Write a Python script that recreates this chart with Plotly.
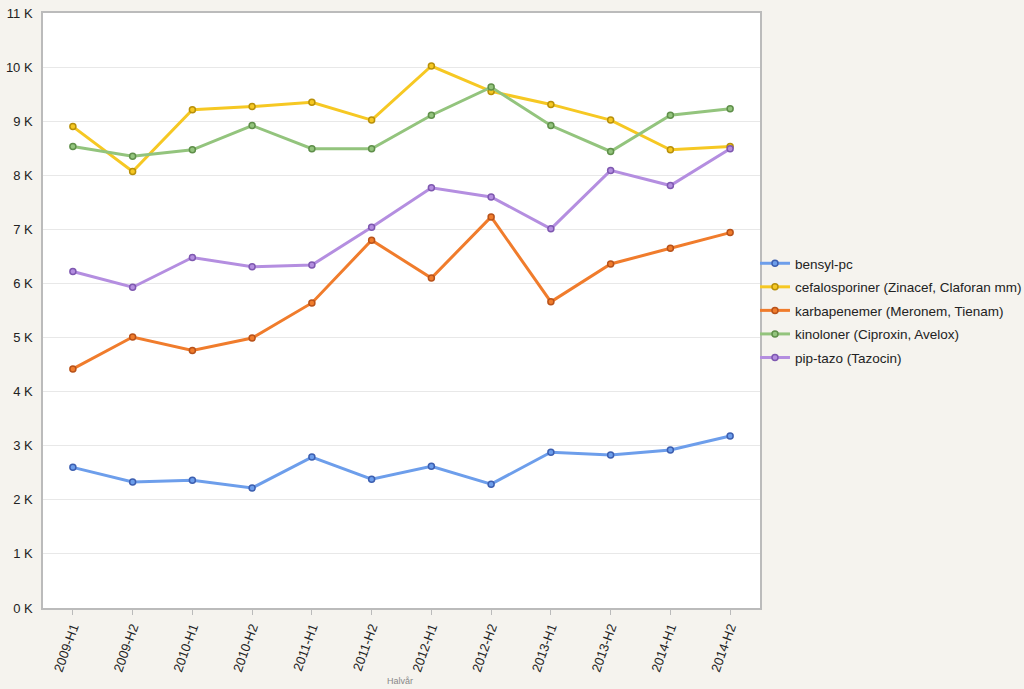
import plotly.graph_objects as go

categories = ["2009-H1", "2009-H2", "2010-H1", "2010-H2", "2011-H1", "2011-H2",
              "2012-H1", "2012-H2", "2013-H1", "2013-H2", "2014-H1", "2014-H2"]

bensyl_pc = [2600, 2330, 2360, 2220, 2790, 2380, 2620, 2290, 2880, 2830, 2920, 3180]
cefalosporiner = [8900, 8070, 9210, 9270, 9350, 9020, 10020, 9550, 9310, 9020, 8470, 8530]
karbapenemer = [4420, 5010, 4760, 4990, 5640, 6800, 6100, 7230, 5660, 6360, 6650, 6940]
kinoloner = [8530, 8350, 8470, 8920, 8490, 8490, 9110, 9630, 8920, 8440, 9110, 9230]
pip_tazo = [6220, 5930, 6480, 6310, 6340, 7040, 7770, 7600, 7010, 8090, 7810, 8490]

series_names = ["bensyl-pc",
                "cefalosporiner (Zinacef, Claforan mm)",
                "karbapenemer (Meronem, Tienam)",
                "kinoloner (Ciproxin, Avelox)",
                "pip-tazo (Tazocin)"]
series_values = [bensyl_pc, cefalosporiner, karbapenemer, kinoloner, pip_tazo]
line_colors = ["#6d9eeb", "#f6c823", "#f07c2c", "#93c47d", "#b48ee0"]
marker_edge = ["#3d5fb0", "#b8900a", "#b8521a", "#5f8f4a", "#7e58b0"]

y_tickvals = list(range(0, 12000, 1000))
y_ticktext = [f"{v // 1000} K" for v in y_tickvals]

fig = go.Figure()
for i, (name, vals, lc, mc) in enumerate(zip(series_names, series_values, line_colors, marker_edge)):
    fig.add_trace(go.Scatter(
        x=categories, y=vals, name=name, mode="lines+markers",
        legendgroup=f"g{i}",
        line=dict(color=lc, width=3),
        marker=dict(size=6, color=lc, line=dict(color=mc, width=1.5)),
    ))

fig.update_layout(
    width=1024, height=689,
    paper_bgcolor="#f5f3ee",
    plot_bgcolor="#ffffff",
    margin=dict(l=43, r=264, t=13, b=81, autoexpand=False),
    font=dict(family="Liberation Sans, Arial, sans-serif", size=13, color="#222222"),
    showlegend=True,
    legend=dict(x=0.993, y=0.5, xanchor="left", yanchor="middle",
                bgcolor="rgba(0,0,0,0)", font=dict(size=13.5, color="#222222"),
                tracegroupgap=3, itemwidth=30),
    annotations=[dict(text="Halvår", xref="paper", yref="paper",
                      x=(400 - 43) / 717, y=-(681 - 608) / 595,
                      xanchor="center", yanchor="middle", showarrow=False,
                      font=dict(size=9, color="#888888"))],
)
fig.update_xaxes(
    type="category", range=[-0.5, 11.5],
    tickangle=-70, showgrid=False,
    showline=True, linecolor="#bbbbbb", linewidth=1.5, mirror=True,
    ticks="outside", ticklen=5, tickcolor="#bbbbbb",
    tickfont=dict(size=13, color="#222222"),
)
fig.update_yaxes(
    range=[0, 11000], tickvals=y_tickvals, ticktext=y_ticktext,
    showgrid=True, gridcolor="#e8e8e8", gridwidth=1,
    showline=True, linecolor="#bbbbbb", linewidth=1.5, mirror=True,
    zeroline=False, ticks="", ticklabelstandoff=6,
    tickfont=dict(size=13, color="#222222"),
)

fig.write_html(
    "out.html",
    config={"displayModeBar": False},
    post_script="document.body.style.margin='0';document.body.style.background='#f5f3ee';document.body.style.overflow='hidden';",
)
